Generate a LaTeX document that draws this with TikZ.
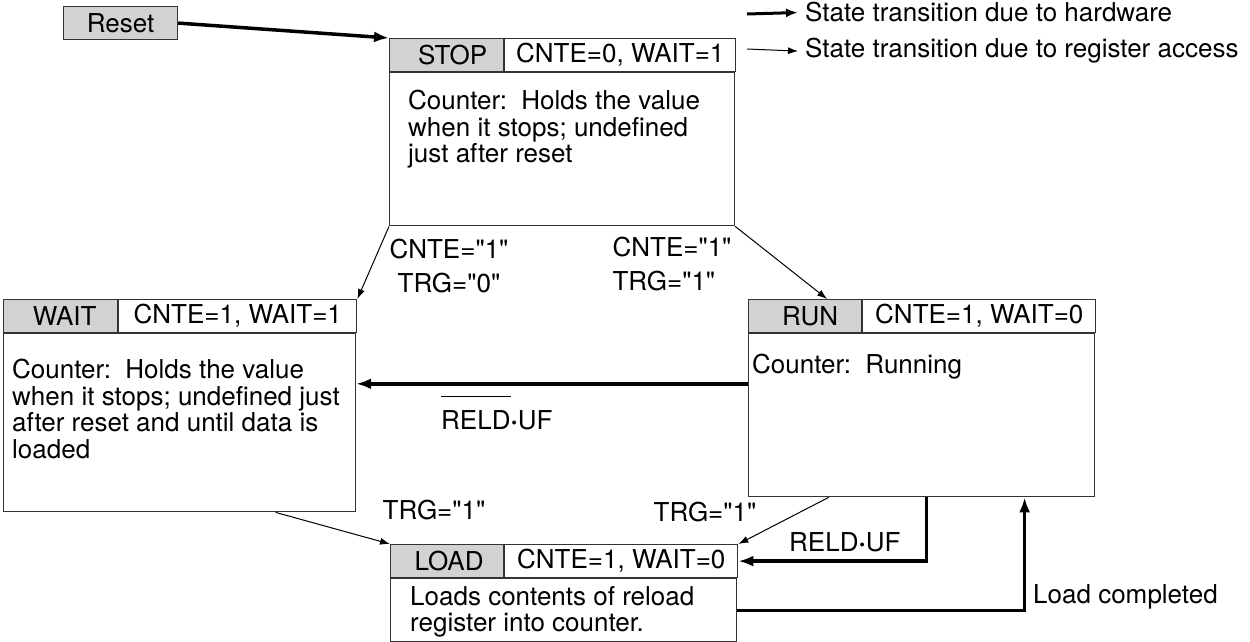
\documentclass[tikz,border=0pt]{standalone}
\usepackage{fontspec}
\setmainfont{TeX Gyre Heros}[Ligatures=TeXOff]
\usetikzlibrary{arrows.meta}
\definecolor{stategray}{RGB}{209,210,212}
\newcommand{\overbar}[1]{\sbox0{#1}\rlap{\raisebox{32pt}{\rule{\wd0}{1.2pt}}}\usebox0}
\begin{document}
\begin{tikzpicture}[x=1pt,y=-1pt,
every node/.style={font=\fontsize{26pt}{26.5pt}\selectfont,inner sep=0pt},
box/.style={draw=black!80,line width=1.2pt},
statename/.style={box,fill=stategray,minimum width=114pt,minimum height=33pt,anchor=north west},
statecfg/.style={box,minimum height=33pt,anchor=west},
statebody/.style={box,anchor=north west},
bodytext/.style={align=left,anchor=north west},
hw/.style={line width=3.5pt,-{Latex[length=15pt,width=11pt]}},
sw/.style={line width=1pt,-{Latex[length=10pt,width=7pt]}}
]
\useasboundingbox (0,0) rectangle (1250,642);

\node[statename] (reset) at (63,6) {Reset};

\node[statename] (stop) at (389,38) {\hspace*{12pt}STOP};
\node[statecfg,minimum width=231pt] (stopcfg) at (stop.east) {CNTE=0, WAIT=1};
\node[statebody,minimum width=345pt,minimum height=153pt] (stopbody) at (stop.south west) {};
\node[bodytext] (stoptext) at (408,90) {Counter:\ \ Holds the value\\when it stops; undefined\\just after reset};

\node[statename] (wait) at (3,299) {\hspace*{8pt}WAIT};
\node[statecfg,minimum width=238pt] (waitcfg) at (wait.east) {CNTE=1, WAIT=1};
\node[statebody,minimum width=352pt,minimum height=178pt] (waitbody) at (wait.south west) {};
\node[bodytext] (waittext) at (12,359) {Counter:\ \ Holds the value\\when it stops; undefined just\\after reset and until data is\\loaded};

\node[statename,minimum width=113pt] (run) at (748,299) {\hspace*{10pt}RUN};
\node[statecfg,minimum width=233pt] (runcfg) at (run.east) {CNTE=1, WAIT=0};
\node[statebody,minimum width=346pt,minimum height=163pt] (runbody) at (run.south west) {};
\node[bodytext] (runtext) at (752,354) {Counter:\ \ Running};

\node[statename,minimum width=113pt] (load) at (390,544) {\hspace*{4pt}LOAD};
\node[statecfg,minimum width=233pt] (loadcfg) at (load.east) {CNTE=1, WAIT=0};
\node[statebody,minimum width=346pt,minimum height=63pt] (loadbody) at (load.south west) {};
\node[bodytext] (loadtext) at (410,586) {Loads contents of reload\\register into counter.};

\node[anchor=base west] (hwtext) at (805,22) {State transition due to hardware};
\node[anchor=base west] (swtext) at (805,58) {State transition due to register access};
\coordinate (hw1) at (747,14);
\coordinate (sw1) at (747,49);
\draw[line width=3pt,-{Latex[length=12pt,width=9pt]}] (hw1) -- ([xshift=-7pt]hwtext.west);
\draw[sw] (sw1) -- ([xshift=-7pt]swtext.west);

\node[align=center] (stopwait) at (449,266) {CNTE="1"\\[8pt]TRG="0"};
\node[align=left] (stoprun) at (672,264) {CNTE="1"\\[8pt]TRG="1"};
\node (waitload) at (434,510) {TRG="1"};
\node (runload) at (705,512) {TRG="1"};
\node[anchor=base west] (runwait) at (441,429) {\overbar{RELD}\textbf{·}UF};
\node[anchor=base west] (reld) at (789,551) {RELD\textbf{·}UF};
\node[anchor=base west] (loaded) at (1033,603) {Load completed};

\draw[hw] (reset.east) -- (stop.north west);
\draw[sw] (stopbody.south west) -- (waitcfg.north east);
\draw[sw] (stopbody.south east) -- ([xshift=22pt]run.north);
\draw[sw] ([xshift=96pt]waitbody.south) -- (load.north west);
\draw[sw] ([xshift=-93pt]runbody.south) -- (loadcfg.north east);
\draw[hw] ([yshift=31.5pt]runbody.west) coordinate (rw) -- (rw -| waitbody.east);
\draw[hw] ([xshift=5pt]runbody.south) |- (loadcfg.east);
\draw[hw] (loadbody.east) -| ([xshift=103pt]runbody.south);
\end{tikzpicture}
\end{document}
